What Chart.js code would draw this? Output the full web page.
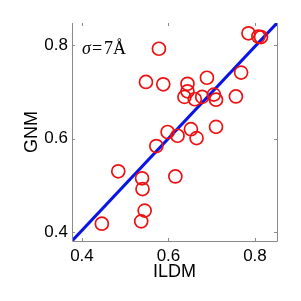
<!DOCTYPE html>
<html>
<head>
<meta charset="utf-8">
<script src="https://cdn.jsdelivr.net/npm/chart.js@4"></script>
<style>
  body { margin: 0; background: #fff; }
  canvas { display: block; }
</style>
</head>
<body>
<canvas id="scatterChart" width="301" height="301"></canvas>
<script>
// ILDM vs GNM values (one per protein)
const ildmValues = [0.578, 0.785, 0.808, 0.814, 0.548, 0.588, 0.644, 0.689, 0.768, 0.644,
    0.637, 0.661, 0.678, 0.705, 0.710, 0.756, 0.598, 0.621, 0.652, 0.665,
    0.710, 0.572, 0.484, 0.539, 0.540, 0.616, 0.545, 0.537, 0.446];
const gnmValues = [0.792, 0.825, 0.818, 0.817, 0.721, 0.716, 0.717, 0.730, 0.741, 0.701,
    0.689, 0.684, 0.689, 0.694, 0.683, 0.690, 0.614, 0.606, 0.620, 0.601,
    0.625, 0.584, 0.530, 0.515, 0.492, 0.519, 0.446, 0.423, 0.418];
// fitted line end points
const fitX = [0.376, 0.852];
const fitY = [0.380, 0.848];
const tickValues = [0.4, 0.6, 0.8];
const annotation = "7Å";

document.addEventListener("DOMContentLoaded", function () {
    var points = ildmValues.map(function (x, i) { return { x: x, y: gnmValues[i] }; });
    var line = fitX.map(function (x, i) { return { x: x, y: fitY[i] }; });

    // draws right border, inward tick marks and the sigma label
    var framePlugin = {
        id: "frame",
        afterDraw: function (chart) {
            var ctx = chart.ctx;
            var a = chart.chartArea;
            var xs = chart.scales.x, ys = chart.scales.y;
            ctx.save();
            ctx.strokeStyle = "#8a8a8a";
            ctx.lineWidth = 1;
            ctx.beginPath();
            ctx.moveTo(a.left + 0.5, a.top);
            ctx.lineTo(a.left + 0.5, a.bottom + 0.5);
            ctx.lineTo(a.right + 0.5, a.bottom + 0.5);
            ctx.lineTo(a.right + 0.5, a.top);
            tickValues.forEach(function (v) {
                var px = Math.round(xs.getPixelForValue(v)) + 0.5;
                ctx.moveTo(px, a.bottom); ctx.lineTo(px, a.bottom - 3);
                ctx.moveTo(px, a.top); ctx.lineTo(px, a.top + 3);
                var py = Math.round(ys.getPixelForValue(v)) + 0.5;
                ctx.moveTo(a.left, py); ctx.lineTo(a.left + 3, py);
                ctx.moveTo(a.right, py); ctx.lineTo(a.right - 3, py);
            });
            ctx.stroke();

            ctx.fillStyle = "#000";
            ctx.textBaseline = "alphabetic";
            ctx.font = "italic 18px 'Liberation Serif'";
            var x0 = a.left + 10, y0 = a.top + 31;
            ctx.fillText("σ", x0, y0);
            ctx.font = "18px 'Liberation Serif'";
            ctx.fillText("=", x0 + 10, y0);
            ctx.fillText(annotation, x0 + 22, y0);
            ctx.restore();
        }
    };

    var ctx = document.getElementById("scatterChart").getContext("2d");
    new Chart(ctx, {
        type: "scatter",
        data: {
            datasets: [
                {
                    label: "proteins",
                    data: points,
                    pointStyle: "circle",
                    pointRadius: 6.5,
                    pointHoverRadius: 6.5,
                    borderWidth: 1.7,
                    borderColor: "#ee1111",
                    backgroundColor: "rgba(0,0,0,0)",
                },
                {
                    type: "line",
                    label: "fit",
                    data: line,
                    borderColor: "#0a14e6",
                    borderWidth: 3,
                    pointRadius: 0,
                    fill: false,
                },
            ],
        },
        options: {
            responsive: false,
            animation: false,
            layout: { padding: { top: 23, right: 24, left: 0, bottom: 0 } },
            plugins: {
                legend: { display: false },
                tooltip: { enabled: false },
            },
            scales: {
                x: {
                    type: "linear",
                    min: 0.377,
                    max: 0.851,
                    grid: { display: false, drawTicks: false },
                    border: { display: false },
                    afterBuildTicks: function (s) { s.ticks = tickValues.map(function (v) { return { value: v }; }); },
                    afterFit: function (s) { s.height = 60; },
                    ticks: {
                        padding: 5,
                        color: "#000",
                        font: { family: "'Liberation Sans'", size: 17 },
                        callback: function (v) { return v.toFixed(1); },
                    },
                    title: {
                        display: true,
                        text: "ILDM",
                        color: "#000",
                        font: { family: "'Liberation Sans'", size: 18 },
                        padding: { top: 18, bottom: 18 },
                    },
                },
                y: {
                    type: "linear",
                    min: 0.381,
                    max: 0.847,
                    grid: { display: false, drawTicks: false },
                    border: { display: false },
                    afterBuildTicks: function (s) { s.ticks = tickValues.map(function (v) { return { value: v }; }); },
                    afterFit: function (s) { s.width = 72; },
                    ticks: {
                        padding: 4,
                        color: "#000",
                        font: { family: "'Liberation Sans'", size: 17 },
                        callback: function (v) { return v.toFixed(1); },
                    },
                    title: {
                        display: true,
                        text: "GNM",
                        color: "#000",
                        font: { family: "'Liberation Sans'", size: 18 },
                        padding: { top: 21, bottom: 21 },
                    },
                },
            },
        },
        plugins: [framePlugin],
    });
});
</script>
</body>
</html>
